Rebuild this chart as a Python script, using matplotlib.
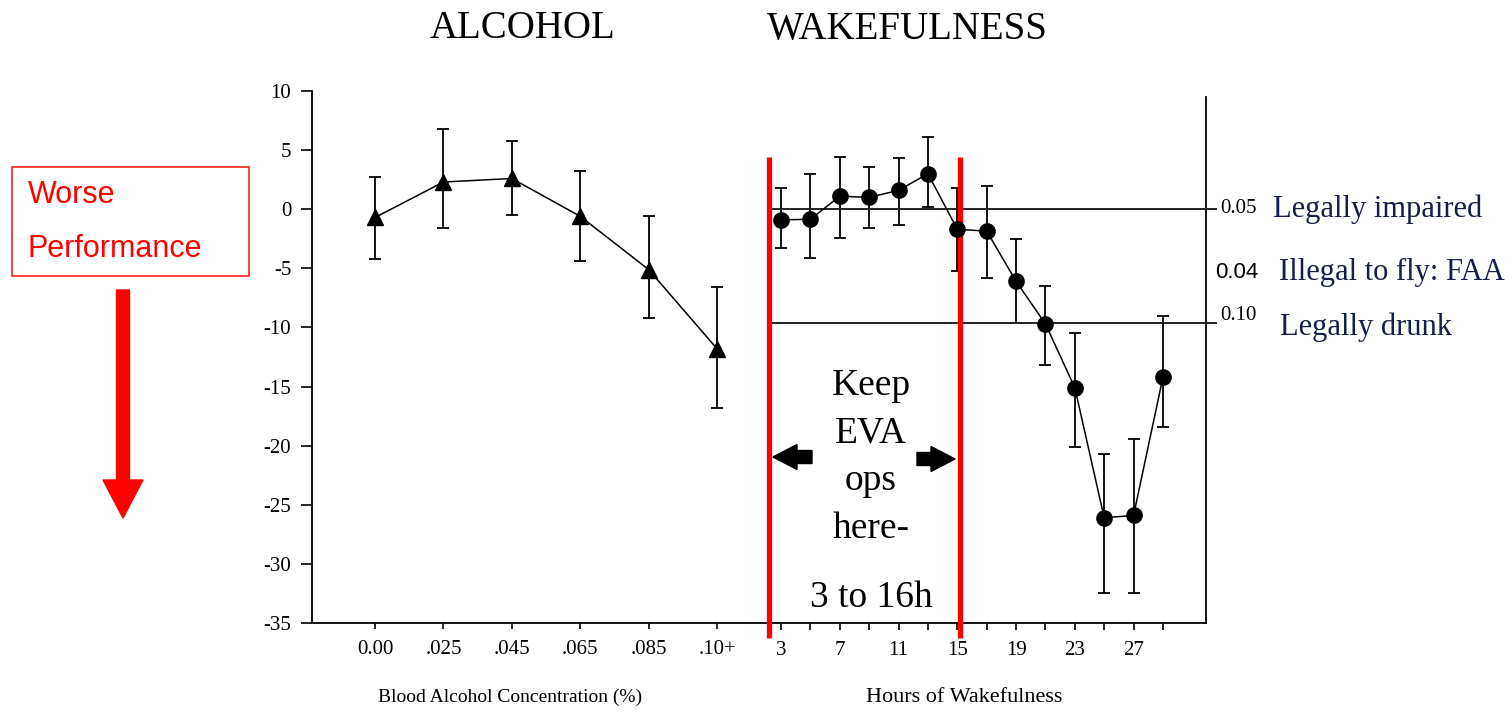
import matplotlib
matplotlib.use("Agg")
import matplotlib.pyplot as plt
from matplotlib.patches import FancyArrow, Rectangle
from matplotlib.transforms import IdentityTransform

# ---- data ----
bac_labels = ["0.00", ".025", ".045", ".065", ".085", ".10+"]
bac_mean = [-0.7, 2.3, 2.6, -0.6, -5.1, -11.8]
bac_hi = [2.7, 6.8, 5.8, 3.2, -0.6, -6.6]
bac_lo = [-4.2, -1.6, -0.5, -4.4, -9.2, -16.8]

hours = [3, 5, 7, 9, 11, 13, 15, 17, 19, 21, 23, 25, 27, 29]
wake_mean = [-0.9, -0.85, 1.1, 1.0, 1.6, 3.0, -1.7, -1.85, -6.1, -9.7, -15.1, -26.1, -25.9, -14.2]
wake_hi = [1.8, 3.0, 4.4, 3.6, 4.3, 6.1, 1.8, 2.0, -2.5, -6.5, -10.5, -20.7, -19.4, -9.0]
wake_lo = [-3.3, -4.1, -2.4, -1.6, -1.3, 0.2, -5.2, -5.8, -9.6, -13.2, -20.1, -32.5, -32.5, -18.4]
hour_labels = [3, 7, 11, 15, 19, 23, 27]

y_ticks = [10, 5, 0, -5, -10, -15, -20, -25, -30, -35]
ref_levels = [0.0, -9.6]
ref_ticks = ["0.05", "0.10"]
ref_notes = ["Legally impaired", "Legally drunk"]
eva_window = [2.2, 15.2]     # hours, red lines
eva_text = ["Keep", "EVA", "ops", "here-"]

W, H = 1512, 712
def fp(x, y):
    # top-left pixel -> figure fraction
    return x / W, 1 - y / H

serif = "Liberation Serif"
sans = "Liberation Sans"
navy = "#14204a"
tick_size = 15

fig = plt.figure(figsize=(W / 100, H / 100), dpi=100)
ax = fig.add_axes([312 / W, 1 - 623 / H, (1206 - 312) / W, (623 - 91) / H])
ax.set_ylim(-35, 10)
ax.set_xlim(-0.921, 12.149)
ax.spines["top"].set_visible(False)
ax.spines["right"].set_bounds(-35, 9.5)
for s in ax.spines.values():
    s.set_linewidth(1.3)
ax.set_yticks(y_ticks)
ax.set_yticklabels([str(v) for v in y_ticks], family=serif, fontsize=tick_size)
ax.set_xticks(range(len(bac_labels)))
ax.set_xticklabels(bac_labels, family=serif, fontsize=tick_size)
ax.tick_params(axis="y", direction="out", length=8, width=1.2, pad=7)
ax.tick_params(axis="x", direction="out", length=4, width=1.2, pad=8)

# alcohol series
ax.errorbar(range(len(bac_mean)), bac_mean,
            yerr=[[m - l for m, l in zip(bac_mean, bac_lo)],
                  [h - m for m, h in zip(bac_mean, bac_hi)]],
            fmt="-^", color="black", ms=12, lw=1.1, elinewidth=1.3, capsize=4, capthick=1.3)

# wakefulness series on a second x scale
ax2 = ax.twiny()
ax2.set_xlim(-28.93, 31.93)
for s in ax2.spines.values():
    s.set_visible(False)
ax2.xaxis.set_ticks_position("bottom")
ax2.set_xticks(hours)
ax2.set_xticklabels([str(h) if h in hour_labels else "" for h in hours], family=serif, fontsize=tick_size)
ax2.tick_params(axis="x", direction="out", length=5, width=1.2, pad=8)

ax2.errorbar(hours, wake_mean,
             yerr=[[m - l for m, l in zip(wake_mean, wake_lo)],
                   [h - m for m, h in zip(wake_mean, wake_hi)]],
             fmt="-o", color="black", ms=11, lw=1.1, elinewidth=1.3, capsize=4, capthick=1.3)

# reference levels
for lvl in ref_levels:
    ax2.hlines(lvl, 2.4, 32.7, color="#222222", lw=1.4, clip_on=False)
ax2.text(32.9, ref_levels[0] + 0.1, ref_ticks[0], family=serif, fontsize=tick_size, va="center", ha="left")
ax2.text(32.9, ref_levels[1] + 0.6, ref_ticks[1], family=serif, fontsize=tick_size, va="center", ha="left")
fig.text(*fp(1273, 209), ref_notes[0], family=serif, fontsize=22, color=navy, va="center", ha="left")
fig.text(*fp(1215, 272), "0.04", family=sans, fontsize=16, color="black", va="center", ha="left")
fig.text(*fp(1279, 272), "Illegal to fly: FAA", family=serif, fontsize=22, color=navy, va="center", ha="left")
fig.text(*fp(1280, 327), ref_notes[1], family=serif, fontsize=22, color=navy, va="center", ha="left")

# EVA window
for xw in eva_window:
    ax2.plot([xw, xw], [4.4, -36.3], color="#ff0000", lw=3.8, clip_on=False, solid_capstyle="butt")
for i, line in enumerate(eva_text):
    fig.text(*fp(871, 386 + 47.5 * i), line, family=serif, fontsize=27, ha="center", va="center")
fig.text(*fp(871, 598), "3 to 16h", family=serif, fontsize=27, ha="center", va="center")
fig.add_artist(FancyArrow(812, H - 457, -39, 0, width=13, head_width=25, head_length=24,
                          length_includes_head=True, color="black", transform=IdentityTransform()))
fig.add_artist(FancyArrow(917, H - 459, 38, 0, width=13, head_width=25, head_length=24,
                          length_includes_head=True, color="black", transform=IdentityTransform()))

# axis labels
ax.text(1.97, -41.3, "Blood Alcohol Concentration (%)", family=serif, fontsize=14,
        ha="center", va="center", clip_on=False)
ax2.text(15.5, -41.3, "Hours of Wakefulness", family=serif, fontsize=16,
         ha="center", va="center", clip_on=False)

# titles
fig.text(*fp(523, 29), "ALCOHOL", family=serif, fontsize=28, ha="center", va="center")
fig.text(*fp(907, 29), "WAKEFULNESS", family=serif, fontsize=28, ha="center", va="center")

# worse performance box + arrow
fig.add_artist(Rectangle((12, H - 276), 237, 109, fill=False, ec="#ff2020", lw=1.2,
                         transform=IdentityTransform()))
fig.text(*fp(28, 195), "Worse", family=sans, fontsize=22, color="#ff0000", va="center", ha="left")
fig.text(*fp(28, 249), "Performance", family=sans, fontsize=22, color="#ff0000", va="center", ha="left")
fig.add_artist(FancyArrow(123, H - 290, 0, -228, width=13, head_width=40, head_length=38,
                          length_includes_head=True, color="#ff0000", transform=IdentityTransform()))

fig.savefig("out.png", dpi=100)
